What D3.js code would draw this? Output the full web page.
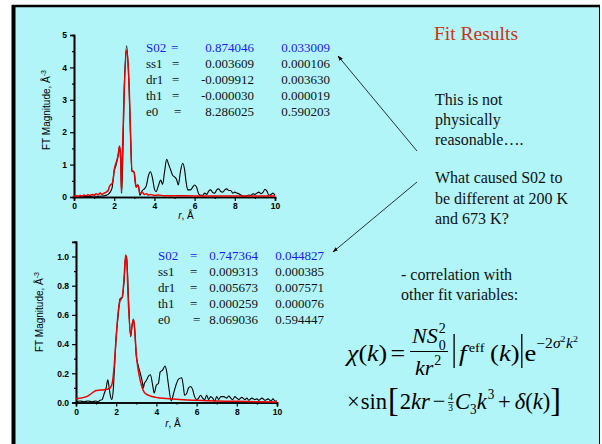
<!DOCTYPE html>
<html><head><meta charset="utf-8">
<script src="https://cdnjs.cloudflare.com/ajax/libs/d3/7.8.5/d3.min.js"></script>
<style>body{margin:0;background:#fff}svg{display:block}</style>
</head><body>
<script>
// ---------- data ----------
const xTicks = [0, 2, 4, 6, 8, 10];
const xMinor = [1, 3, 5, 7, 9];
const topYTicks = [0, 1, 2, 3, 4, 5];
const topYMinor = [0.5, 1.5, 2.5, 3.5, 4.5];
const botYTicks = [0, 0.2, 0.4, 0.6, 0.8, 1.0];
const botYMinor = [0.1, 0.3, 0.5, 0.7, 0.9, 1.1];

const topDataR = [0,0.2,0.4,0.6,0.8,1.0,1.2,1.4,1.6,1.7,1.8,1.9,2.0,2.1,2.2,2.27,2.32,2.37,2.42,2.49,2.62,2.74,2.82,2.88,2.95,3.0,3.08,3.2,3.28,3.4,3.5,3.6,3.7,3.8,3.9,4.0,4.08,4.2,4.31,4.41,4.5,4.61,4.7,4.8,4.9,5.0,5.1,5.19,5.3,5.41,5.5,5.58,5.66,5.8,5.9,6.0,6.1,6.2,6.3,6.4,6.5,6.6,6.7,6.8,6.9,7.0,7.1,7.2,7.3,7.4,7.5,7.6,7.7,7.8,7.9,8.0,8.1,8.2,8.3,8.4,8.5,8.6,8.7,8.8,8.9,9.0,9.1,9.2,9.3,9.4,9.5,9.6,9.7,9.8,9.9,10];
const topData  = [0.02,0.02,0.01,0.02,0.02,0.03,0.02,0.03,0.05,0.08,0.15,0.3,0.8,1.0,1.3,1.57,1.2,0.12,1.0,3.1,4.67,3.4,1.76,0.8,0.78,0.75,0.32,0.37,0.05,0.2,0.25,0.35,0.65,0.78,0.6,0.25,0.16,0.35,0.52,0.39,0.75,1.16,1.02,0.85,0.68,0.62,0.55,0.37,0.8,1.04,0.85,0.45,0.22,0.22,0.3,0.37,0.3,0.1,0.05,0.05,0.12,0.08,0.18,0.22,0.14,0.12,0.22,0.25,0.17,0.15,0.22,0.25,0.2,0.2,0.12,0.15,0.12,0.1,0.06,0.03,0.02,0.03,0.06,0.05,0.1,0.08,0.12,0.15,0.1,0.14,0.24,0.18,0.05,0.08,0.12,0.05];

const topFitR = [0,0.1,0.2,0.3,0.4,0.5,0.6,0.7,0.8,0.9,1.0,1.1,1.2,1.3,1.4,1.5,1.6,1.7,1.75,1.8,1.9,1.95,2.0,2.09,2.2,2.26,2.32,2.36,2.4,2.5,2.62,2.7,2.75,2.82,2.88,2.95,3.0,3.05,3.1,3.15,3.2,3.28,3.4,3.5,3.6,3.7,3.8,4.0,4.2,4.5,5,6,7,8,9,10];
const topFit  = [0.03,0.04,0.02,0.05,0.03,0.06,0.04,0.07,0.05,0.08,0.06,0.1,0.07,0.12,0.08,0.12,0.15,0.2,0.3,0.36,0.42,0.55,0.83,1.05,1.3,1.57,1.2,0.12,1.2,3.3,4.54,4.0,3.3,1.8,0.8,0.8,0.72,0.45,0.3,0.37,0.33,0.11,0.15,0.08,0.1,0.06,0.08,0.05,0.06,0.04,0.04,0.03,0.03,0.03,0.03,0.03];

const botDataR = [0,0.2,0.4,0.6,0.8,1.0,1.1,1.2,1.3,1.4,1.5,1.58,1.65,1.72,1.78,1.85,1.9,2.0,2.1,2.19,2.3,2.4,2.47,2.52,2.6,2.72,2.78,2.86,2.92,3.0,3.1,3.2,3.3,3.35,3.4,3.5,3.6,3.7,3.8,3.89,4.0,4.1,4.19,4.3,4.43,4.5,4.6,4.74,4.85,5.0,5.1,5.26,5.35,5.4,5.5,5.6,5.7,5.8,5.9,6.0,6.1,6.2,6.3,6.4,6.5,6.6,6.7,6.8,6.9,7.0,7.1,7.2,7.35,7.5,7.6,7.7,7.8,7.9,8.0,8.1,8.25,8.4,8.5,8.6,8.75,8.9,9.0,9.1,9.25,9.4,9.55,9.7,9.8,9.9,10];
const botData  = [0.005,0.01,0.005,0.01,0.005,0.01,0.005,0.015,0.02,0.06,0.1,0.155,0.1,0.04,0.02,0.08,0.2,0.45,0.6,0.71,0.72,0.85,1.0,1.0,0.75,0.45,0.52,0.57,0.5,0.32,0.25,0.2,0.14,0.1,0.13,0.15,0.18,0.19,0.13,0.065,0.12,0.13,0.21,0.22,0.25,0.22,0.12,0.01,0.06,0.13,0.16,0.17,0.1,0.05,0.06,0.1,0.11,0.09,0.04,0.02,0.03,0.05,0.03,0.02,0.05,0.02,0.04,0.03,0.01,0.04,0.02,0.04,0.04,0.03,0.045,0.03,0.02,0.04,0.03,0.02,0.035,0.02,0.03,0.015,0.03,0.02,0.025,0.015,0.03,0.015,0.025,0.01,0.025,0.01,0.01];

const botFitR = [0,0.2,0.4,0.6,0.75,0.9,1.0,1.2,1.4,1.6,1.7,1.8,1.9,2.0,2.1,2.2,2.3,2.4,2.47,2.52,2.6,2.72,2.78,2.86,2.92,3.0,3.1,3.2,3.3,3.4,3.52,3.7,4.0,4.5,5,6,7,8,9,10];
const botFit  = [0.025,0.03,0.035,0.045,0.06,0.075,0.082,0.085,0.088,0.092,0.1,0.13,0.25,0.45,0.62,0.7,0.72,0.87,1.01,0.98,0.7,0.46,0.52,0.57,0.5,0.33,0.22,0.15,0.1,0.07,0.055,0.045,0.035,0.028,0.022,0.015,0.01,0.008,0.005,0.003];

const topParams = [["S02","0.874046","0.033009"],["ss1","0.003609","0.000106"],["dr1","-0.009912","0.003630"],["th1","-0.000030","0.000019"],["e0","8.286025","0.590203"]];
const botParams = [["S02","0.747364","0.044827"],["ss1","0.009313","0.000385"],["dr1","0.005673","0.007571"],["th1","0.000259","0.000076"],["e0","8.069036","0.594447"]];

// ---------- drawing ----------
const W = 602, H = 444;
const svg = d3.select("body").append("svg").attr("width", W).attr("height", H);
svg.append("rect").attr("x", 13).attr("y", 5).attr("width", 586.5).attr("height", 445)
  .attr("fill", "#b2f5f8");
svg.append("line").attr("x1",13.5).attr("x2",13.5).attr("y1",5).attr("y2",H).attr("stroke","#000").attr("stroke-width",4);
svg.append("line").attr("x1",12).attr("x2",600).attr("y1",6).attr("y2",6).attr("stroke","#000").attr("stroke-width",2.5);
svg.append("line").attr("x1",599.5).attr("x2",599.5).attr("y1",5).attr("y2",H).attr("stroke","#000").attr("stroke-width",1);

const defs = svg.append("defs");
defs.append("marker").attr("id","ah").attr("viewBox","0 0 10 10").attr("refX",9).attr("refY",5)
  .attr("markerWidth",7).attr("markerHeight",7).attr("orient","auto")
  .append("path").attr("d","M0,1.5 L10,5 L0,8.5 Z").attr("fill","#000");

function plot(cfg) {
  const x = d3.scaleLinear().domain([0, 10]).range([cfg.x0, cfg.x1]);
  const y = d3.scaleLinear().domain([0, cfg.ymax]).range([cfg.y0, cfg.y1]);
  const g = svg.append("g");
  g.append("g").attr("transform", `translate(0,${cfg.y0})`)
    .call(d3.axisBottom(x).tickValues(xTicks).tickSize(4).tickPadding(2).tickFormat(d3.format("d")));
  g.append("g").attr("transform", `translate(0,${cfg.y0})`)
    .call(d3.axisBottom(x).tickValues(xMinor).tickSize(2).tickFormat(""));
  g.append("g").attr("transform", `translate(${cfg.x0},0)`)
    .call(d3.axisLeft(y).tickValues(cfg.yTicks).tickSize(4).tickPadding(3).tickFormat(cfg.fmt));
  g.append("g").attr("transform", `translate(${cfg.x0},0)`)
    .call(d3.axisLeft(y).tickValues(cfg.yMinor).tickSize(2).tickFormat(""));
  g.selectAll(".domain").attr("stroke", "#000").attr("stroke-width", 1.6);
  g.selectAll(".tick line").attr("stroke", "#000").attr("stroke-width", 1.2);
  g.selectAll(".tick text").attr("font-family", "Liberation Sans, Arial, sans-serif")
    .attr("font-weight", "bold").attr("font-size", 8.5).attr("fill", "#000");

  const line = d3.line().x(d => x(d[0])).y(d => y(d[1])).curve(d3.curveMonotoneX);
  g.append("path").datum(d3.zip(cfg.dR, cfg.d)).attr("d", line)
    .attr("fill", "none").attr("stroke", "#000").attr("stroke-width", 1.1);
  g.append("path").datum(d3.zip(cfg.fR, cfg.f)).attr("d", line)
    .attr("fill", "none").attr("stroke", "#ee0000").attr("stroke-width", 1.5);

  const yl = g.append("text").attr("transform", `translate(${cfg.ylx},${cfg.yly}) rotate(-90)`)
    .attr("text-anchor", "middle").attr("font-family", "Liberation Sans, Arial, sans-serif")
    .attr("font-size", 10).attr("fill", "#000");
  yl.append("tspan").text("FT Magnitude, Å");
  yl.append("tspan").attr("dy", -4).attr("font-size", 7).text("-3");
  const xl = g.append("text").attr("x", cfg.xlx).attr("y", cfg.xly).attr("text-anchor", "middle")
    .attr("font-family", "Liberation Sans, Arial, sans-serif").attr("font-size", 10).attr("fill", "#000");
  xl.append("tspan").attr("font-style", "italic").text("r");
  xl.append("tspan").text(", Å");
}

plot({x0: 74, x1: 275, y0: 197, y1: 35, ymax: 5, yTicks: topYTicks, yMinor: topYMinor,
  fmt: d3.format("d"), dR: topDataR, d: topData, fR: topFitR, f: topFit,
  ylx: 50, yly: 110, xlx: 186, xly: 219});
plot({x0: 76, x1: 277, y0: 402.5, y1: 241.9, ymax: 1.1, yTicks: botYTicks, yMinor: botYMinor,
  fmt: d3.format(".1f"), dR: botDataR, d: botData, fR: botFitR, f: botFit,
  ylx: 43, yly: 312, xlx: 173, xly: 427});

// parameter tables
const serif = "Liberation Serif, Times New Roman, serif";
function txt(x, y, s, c, anchor) {
  return svg.append("text").attr("x", x).attr("y", y).attr("font-family", serif).attr("font-size", 13)
    .attr("fill", c).attr("text-anchor", anchor || "start").text(s);
}
topParams.forEach((r, i) => {
  const c = i === 0 ? "#1a1aee" : "#111";
  const y = 52 + i * 16;
  txt(146, y, r[0], c);
  txt(i === 0 ? 171 : (i === 4 ? 174 : 172), y, "=", c);
  txt(254, y, r[1], c, "end");
  txt(330, y, r[2], c, "end");
});
botParams.forEach((r, i) => {
  const c = i === 0 ? "#1a1aee" : "#111";
  const y = 259.5 + i * 16;
  txt(158, y, r[0], c);
  txt(i === 4 ? 193 : 190, y, "=", c);
  txt(258, y, r[1], c, "end");
  txt(324, y, r[2], c, "end");
});

// right side text
svg.append("text").attr("x", 434).attr("y", 39.5).attr("font-family", serif).attr("font-size", 19.5)
  .attr("fill", "#cc3311").text("Fit Results");
function lines(arr, x, y0, dy) {
  arr.forEach((t, i) => svg.append("text").attr("x", x).attr("y", y0 + i * dy).attr("font-family", serif)
    .attr("font-size", 16).attr("fill", "#111").text(t));
}
lines(["This is not", "physically", "reasonable…."], 435, 105, 20);
lines(["What caused S02 to", "be different at 200 K", "and 673 K?"], 435, 183, 20.5);
lines(["- correlation with", "other fit variables:"], 401, 280, 20);

// arrows
svg.append("line").attr("x1", 417).attr("y1", 151).attr("x2", 338).attr("y2", 56)
  .attr("stroke", "#000").attr("stroke-width", 0.8).attr("marker-end", "url(#ah)");
svg.append("line").attr("x1", 417).attr("y1", 182).attr("x2", 333).attr("y2", 252)
  .attr("stroke", "#000").attr("stroke-width", 0.8).attr("marker-end", "url(#ah)");

// formula: sequential layout, then fit to target width
function layout(g, x0, base, pieces) {
  let x = x0;
  pieces.forEach(p => {
    x += (p.gap || 0);
    if (p.bar) {
      g.append("line").attr("x1", x + 1).attr("x2", x + 1).attr("y1", base - p.up).attr("y2", base + p.down)
        .attr("stroke", "#000").attr("stroke-width", 1.2);
      x += 2.5;
      return;
    }
    if (p.stack) { // stacked super/sub scripts
      const a = g.append("text").attr("x", x).attr("y", base + p.dyTop).attr("font-family", serif)
        .attr("font-size", p.size).text(p.top);
      const b = g.append("text").attr("x", x).attr("y", base + p.dyBot).attr("font-family", serif)
        .attr("font-size", p.size).text(p.bot);
      const w = Math.max(a.node().getComputedTextLength(), b.node().getComputedTextLength());
      if (p.line) g.append("line").attr("x1", x - 0.5).attr("x2", x + w + 0.5).attr("y1", base + p.line)
        .attr("y2", base + p.line).attr("stroke", "#000").attr("stroke-width", 0.8);
      x += w;
      return;
    }
    const t = g.append("text").attr("x", x).attr("y", base + (p.dy || 0)).attr("font-family", serif)
      .attr("font-size", p.size).attr("font-style", p.it ? "italic" : "normal").text(p.s);
    x += t.node().getComputedTextLength();
  });
  return x;
}
function fitLine(g, x0, target) {
  const bb = g.node().getBBox();
  const s = (target - x0) / (bb.x + bb.width - x0);
  g.attr("transform", `translate(${x0},0) scale(${s},1) translate(${-x0},0)`);
}
const L = 24, S = 14;
// line 1, left part
const g1 = svg.append("g");
layout(g1, 347, 361, [
  {s: "χ", size: L, it: true}, {s: "(", size: L}, {s: "k", size: L, it: true}, {s: ")", size: L},
  {s: "=", size: L, gap: 3}]);
fitLine(g1, 347, 405);
// fraction
const gf = svg.append("g");
const ne = layout(gf, 412, 343, [{s: "NS", size: 22, it: true}, {stack: true, size: 14, top: "2", bot: "0", dyTop: -10, dyBot: 7, gap: 1}]);
gf.append("line").attr("x1", 410).attr("x2", 448).attr("y1", 351.5).attr("y2", 351.5).attr("stroke", "#000").attr("stroke-width", 1.2);
layout(gf, 415, 375, [{s: "kr", size: 22, it: true}, {s: "2", size: 14, dy: -10, gap: 1}]);
// rest of line 1
const g2 = svg.append("g");
layout(g2, 453, 361, [
  {bar: true, up: 27, down: 7}, {s: "f", size: L, it: true, gap: 3}, {s: "eff", size: 13, dy: -9, gap: 2},
  {s: "(", size: L, gap: 5}, {s: "k", size: L, it: true}, {s: ")", size: L},
  {bar: true, up: 27, down: 7, gap: 1}, {s: "e", size: L, gap: 1},
  {s: "−2", size: S, dy: -13}, {s: "σ", size: S, it: true, dy: -13}, {s: "2", size: 9, dy: -19},
  {s: "k", size: S, it: true, dy: -13, gap: 0.5}, {s: "2", size: 9, dy: -19}]);
fitLine(g2, 453, 578);
// line 2
const g3 = svg.append("g");
layout(g3, 347, 409, [
  {s: "×", size: L}, {s: "sin", size: L, gap: 1}, {s: "[", size: 34, dy: 2, gap: 1},
  {s: "2", size: L, gap: 1}, {s: "kr", size: L, it: true}, {s: "−", size: L, gap: 3},
  {stack: true, size: 10, top: "4", bot: "3", dyTop: -9, dyBot: 2, line: -6.5, gap: 3},
  {s: "C", size: L, it: true, gap: 2}, {s: "3", size: S, dy: 5}, {s: "k", size: L, it: true},
  {s: "3", size: S, dy: -10, gap: 1}, {s: "+", size: L, gap: 4}, {s: "δ", size: L, it: true, gap: 4},
  {s: "(", size: L}, {s: "k", size: L, it: true}, {s: ")", size: L}, {s: "]", size: 34, dy: 2}]);
fitLine(g3, 347, 561);
</script>
</body></html>
